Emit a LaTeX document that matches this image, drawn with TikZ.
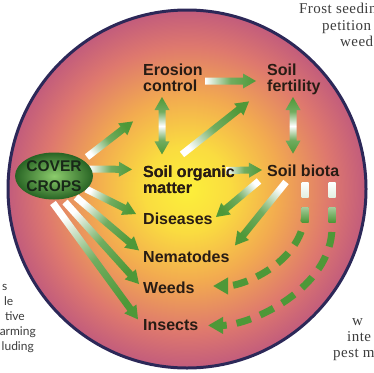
\documentclass[tikz,border=0pt]{standalone}
\usepackage{fontspec}
\setsansfont{Liberation Sans}
\newfontfamily\serifpage{Liberation Serif}[LetterSpace=3]
\newfontfamily\sanspage{Lato}
\usetikzlibrary{calc,shapes.geometric,arrows.meta}

\definecolor{argreen}{RGB}{78,152,56}
\definecolor{labtext}{RGB}{40,28,20}
\definecolor{cctext}{RGB}{24,40,24}
\definecolor{ringc}{RGB}{44,40,88}
\definecolor{bgY}{RGB}{252,240,58}
\definecolor{bgYtwo}{RGB}{250,220,64}
\definecolor{bgO}{RGB}{242,170,80}
\definecolor{bgP}{RGB}{222,120,110}
\definecolor{bgE}{RGB}{194,92,124}
\definecolor{ccin}{RGB}{140,204,108}
\definecolor{ccout}{RGB}{40,100,36}
\definecolor{pagetext}{RGB}{60,60,60}

\pgfdeclareradialshading{bgshade}{\pgfpoint{0bp}{0bp}}{color(0bp)=(bgY); color(6bp)=(bgYtwo); color(13bp)=(bgO); color(20bp)=(bgP); color(25bp)=(bgE); color(50bp)=(bgE)}

% fat shaded arrow: #2 start, #3 end (both as coordinates in parentheses)
\newcommand\fatarrow[3][]{%
  \coordinate (faS) at #2;
  \coordinate (faE) at #3;
  \coordinate (faH) at ($(faE)!13pt!(faS)$);
  \pgfmathanglebetweenpoints{\pgfpointanchor{faS}{center}}{\pgfpointanchor{faE}{center}}%
  \pgfmathsetmacro\faang{\pgfmathresult-90}%
  \shade[bottom color=white, top color=argreen, middle color=argreen!80!white, shading angle=\faang, #1]
    ($(faS)!3.5pt!90:(faE)$) -- ($(faH)!3.5pt!90:(faE)$) -- ($(faH)!7.5pt!90:(faE)$) -- (faE)
    -- ($(faH)!7.5pt!-90:(faE)$) -- ($(faH)!3.5pt!-90:(faE)$) -- ($(faS)!3.5pt!-90:(faE)$) -- cycle;
}

\tikzset{
  lab/.style={anchor=north west, inner sep=0pt, align=left, text=labtext,
    font=\sffamily\bfseries\fontsize{16}{16}\selectfont},
  pageserif/.style={anchor=base west, inner sep=0pt, text=pagetext,
    font=\serifpage\fontsize{15}{16}\selectfont},
  pagesans/.style={anchor=base east, inner sep=0pt, text=pagetext,
    font=\sanspage\fontsize{12}{15}\selectfont},
  dasharrow/.style={draw=argreen, line width=7pt, dash pattern=on 15pt off 10pt,
    -{Triangle[length=15pt,width=16pt]}},
}

\begin{document}
\begin{tikzpicture}[x=1pt,y=-1pt]
\useasboundingbox (0,0) rectangle (374,372);
\clip (0,0) rectangle (374,372);

% background disc
\shade[shading=bgshade] (187,189) circle (179pt);
\draw[ringc, line width=3pt] (187,189) circle (179pt);

% labels
\node[lab] (ero)   at (143,63.4)  {Erosion\\control};
\node[lab] (fert)  at (267,63.4)  {Soil\\fertility};
\node[lab] (som)   at (143,165.4) {Soil organic\\matter};
\node[lab] (biota) at (267,164.6) {Soil biota};
\node[lab] (dis)   at (143,213)   {Diseases};
\node[lab] (nem)   at (143,250.4) {Nematodes};
\node[lab] (weeds) at (143,282)   {Weeds};
\node[lab] (ins)   at (143,319.4) {Insects};
\coordinate (ccc) at (54,176);

% arrows from cover crops
\fatarrow{($(ccc)+(33,-19)$)}{($(ero.north west)+(-10,58)$)}
\fatarrow{($(ccc)+(35,-7)$)}{($(som.north west)+(-11,4)$)}
\fatarrow{($(ccc)+(32,13)$)}{($(dis.north west)+(-7,1)$)}
\fatarrow{($(ccc)+(22,21)$)}{($(nem.north west)+(-4,0)$)}
\fatarrow{($(ccc)+(11,26)$)}{($(weeds.north west)+(-4,2)$)}
\fatarrow{($(ccc)+(-1,27)$)}{($(ins.north west)+(-5,0)$)}

% erosion control <-> soil organic matter
\fatarrow{($(ero.north west)+(19,62.6)$)}{($(ero.north west)+(19,33.6)$)}
\fatarrow{($(ero.north west)+(19,62.6)$)}{($(som.north west)+(19,-11)$)}
% soil fertility <-> soil biota
\fatarrow{($(fert.north west)+(26,62.6)$)}{($(fert.north west)+(26,33.6)$)}
\fatarrow{($(fert.north west)+(26,62.6)$)}{($(biota.north west)+(26,-11)$)}
% others
\fatarrow{($(som.north west)+(39,-11)$)}{($(fert.north west)+(-18,38)$)}
\fatarrow{($(ero.north west)+(62,17.6)$)}{($(fert.north west)+(-11,17.6)$)}
\fatarrow{($(som.north west)+(83,5)$)}{($(biota.north west)+(-5,5.4)$)}
\fatarrow{($(biota.north west)+(-8,16.4)$)}{($(dis.north west)+(73,4)$)}
\fatarrow{($(biota.north west)+(19,17.4)$)}{($(nem.north west)+(92,-5)$)}

% dashed curved arrows
\draw[dasharrow] ($(biota.north west)+(38,17.4)$) -- ++(0,28)
  .. controls +(0,52) and +(30,0) .. ($(weeds.north west)+(70,4)$);
\draw[dasharrow] ($(biota.north west)+(65,17.4)$) -- ++(0,45)
  .. controls +(0,62) and +(42,0) .. ($(ins.north west)+(65,6)$);
\shade[top color=white, bottom color=white!85!argreen]
  ($(biota.north west)+(34.5,17.4)$) rectangle ++(7,15);
\shade[top color=white!50!argreen, bottom color=argreen]
  ($(biota.north west)+(34.5,42.4)$) rectangle ++(7,15);
\shade[top color=white, bottom color=white!85!argreen]
  ($(biota.north west)+(61.5,17.4)$) rectangle ++(7,15);
\shade[top color=white!50!argreen, bottom color=argreen]
  ($(biota.north west)+(61.5,42.4)$) rectangle ++(7,15);

% labels drawn again on top of arrow ends
\node[lab] at (som.north west) {Soil organic\\matter};

% cover crops ellipse
\node[ellipse, shade, inner color=ccin, outer color=ccout, minimum width=66pt,
  minimum height=47pt, inner sep=0pt, align=center, text=cctext,
  font=\sffamily\bfseries\fontsize{15.5}{20}\selectfont] (cc) at (ccc) {COVER\\CROPS};

% fragments of surrounding page text
\node[pageserif] (p1) at (299,13) {Frost seedin};
\node[pageserif] (p2) at (322,30) {petition};
\node[pageserif] (p3) at (340,46) {weed};
\node[pageserif] (p4) at (352,325) {w};
\node[pageserif] (p5) at (347,341) {inte};
\node[pageserif] (p6) at (333,357) {pest m};
\node[pagesans] (q1) at (7.5,290) {s};
\node[pagesans] (q2) at (13.5,305) {le};
\node[pagesans] (q3) at (25,320) {tive};
\node[pagesans] (q4) at (36,335) {arming};
\node[pagesans] (q5) at (34,350) {luding};
\end{tikzpicture}
\end{document}
